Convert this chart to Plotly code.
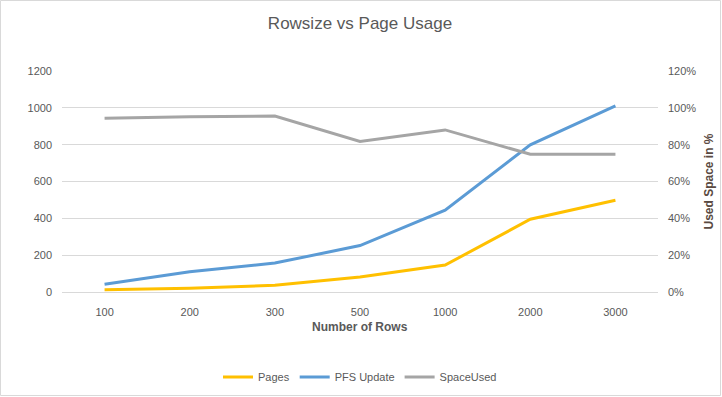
import plotly.graph_objects as go

rows = ["100", "200", "300", "500", "1000", "2000", "3000"]
pages = [12, 20, 37, 82, 146, 395, 498]
pfs_update = [42, 110, 157, 252, 444, 799, 1011]
space_used = [0.943, 0.952, 0.955, 0.817, 0.880, 0.748, 0.748]

W, H = 722, 397
L, R, T, B = 62, 64, 71, 105
pw = W - L - R
ph = H - T - B

font = "Liberation Sans"
txt = "#595959"

fig = go.Figure()
fig.add_trace(go.Scatter(x=rows, y=pages, name="Pages", mode="lines",
                         line=dict(color="#FFC000", width=3)))
fig.add_trace(go.Scatter(x=rows, y=pfs_update, name="PFS Update", mode="lines",
                         line=dict(color="#5B9BD5", width=3)))
fig.add_trace(go.Scatter(x=rows, y=space_used, name="SpaceUsed", mode="lines",
                         line=dict(color="#A5A5A5", width=3), yaxis="y2"))

fig.update_layout(
    template="none",
    width=W, height=H,
    margin=dict(l=L, r=R, t=T, b=B, pad=0, autoexpand=False),
    paper_bgcolor="white", plot_bgcolor="white",
    font=dict(family=font, size=11, color=txt),
    title=dict(text="Rowsize vs Page Usage", x=0.5, xanchor="center",
               xref="paper", y=1 - 23 / H, yanchor="middle",
               font=dict(family=font, size=17, color=txt)),
    xaxis=dict(type="category", range=[-0.5, len(rows) - 0.5], automargin=False,
               showgrid=False, showline=True, linecolor="#D9D9D9", linewidth=1,
               zeroline=False, ticks="", ticklabelstandoff=10,
               tickfont=dict(size=11, color=txt), fixedrange=True),
    yaxis=dict(range=[0, 1200], dtick=200, automargin=False, showgrid=True,
               gridcolor="#D9D9D9", gridwidth=1, zeroline=False, showline=False,
               ticks="", ticklabelstandoff=9, tickfont=dict(size=11, color=txt)),
    yaxis2=dict(range=[0, 1.2], dtick=0.2, tickformat=".0%", overlaying="y",
                automargin=False, side="right", showgrid=False, zeroline=False,
                showline=False, ticks="", ticklabelstandoff=9,
                tickfont=dict(size=11, color=txt)),
    legend=dict(orientation="h", x=0.5, xanchor="center", y=-(377 - (T + ph)) / ph,
                yanchor="middle", font=dict(size=11, color=txt),
                itemwidth=30, tracegroupgap=0, bgcolor="rgba(0,0,0,0)"),
    showlegend=True,
)

fig.add_annotation(text="<b>Number of Rows</b>", xref="paper", yref="paper",
                   x=0.5, y=-(327 - (T + ph)) / ph, showarrow=False,
                   xanchor="center", yanchor="middle",
                   font=dict(size=12, color=txt))
fig.add_annotation(text="<b>Used Space in %</b>", xref="paper", yref="paper",
                   x=(708 - L) / pw, y=0.5, showarrow=False, textangle=-90,
                   xanchor="center", yanchor="middle",
                   font=dict(size=12, color="#5a4a42"))

fig.add_shape(type="rect", xref="paper", yref="paper",
              x0=-(L - 0.5) / pw, x1=1 + (R - 1.5) / pw,
              y0=-(B - 1.5) / ph, y1=1 + (T - 0.5) / ph,
              line=dict(color="#D9D9D9", width=1), layer="below")

fig.write_html("out.html",
               config={"displayModeBar": False},
               post_script="document.body.style.margin='0';"
                           "document.body.style.overflow='hidden';")
